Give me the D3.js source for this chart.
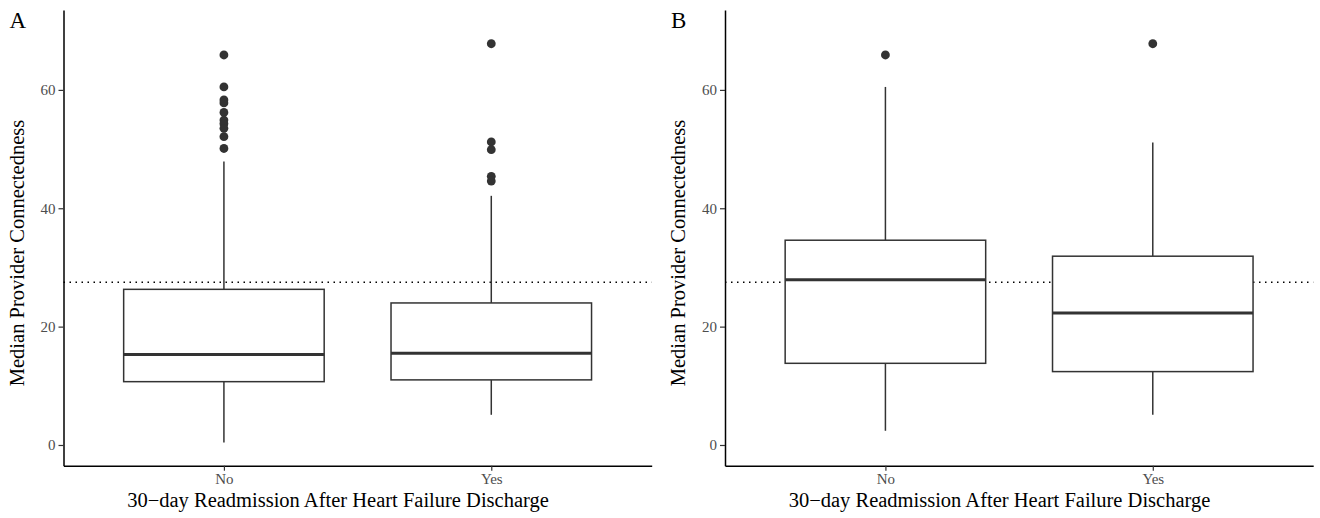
<!DOCTYPE html>
<html>
<head>
<meta charset="utf-8">
<script src="https://cdn.jsdelivr.net/npm/d3@7"></script>
<style>
  body { margin: 0; background: #fff; }
  svg { display: block; font-family: "Liberation Serif", "DejaVu Serif", serif; }
  .tick text { font-family: "Liberation Serif", serif; }
</style>
</head>
<body>
<svg id="chart" width="1320" height="518"></svg>
<script>
// categories and ticks
const groups = ["No", "Yes"];
const yTicks = [0, 20, 40, 60];
const refLine = 27.5;

// panel A: box stats per group (No, Yes)
const aLower  = [0.4, 5.1];
const aQ1     = [10.7, 11.0];
const aMedian = [15.3, 15.5];
const aQ3     = [26.3, 24.0];
const aUpper  = [47.9, 42.1];
const aOutNo  = [65.9, 60.5, 58.3, 57.8, 56.2, 54.9, 54.3, 53.5, 52.1, 50.1];
const aOutYes = [67.8, 51.2, 49.9, 45.4, 44.6];

// panel B
const bLower  = [2.4, 5.1];
const bQ1     = [13.8, 12.4];
const bMedian = [27.9, 22.3];
const bQ3     = [34.6, 31.9];
const bUpper  = [60.5, 51.1];
const bOutNo  = [65.9];
const bOutYes = [67.8];

const yTitle = "Median Provider Connectedness";
const xTitle = "30\u2212day Readmission After Heart Failure Discharge";

function buildRows(lo, q1, med, q3, hi, outs) {
  return groups.map((g, i) => ({
    group: g, lower: lo[i], q1: q1[i], median: med[i], q3: q3[i], upper: hi[i], outliers: outs[i]
  }));
}

const panels = [
  { tag: "A", left: 63.5, rows: buildRows(aLower, aQ1, aMedian, aQ3, aUpper, [aOutNo, aOutYes]) },
  { tag: "B", left: 725, rows: buildRows(bLower, bQ1, bMedian, bQ3, bUpper, [bOutNo, bOutYes]) }
];

const svg = d3.select("#chart");
const plotTop = 10, plotBottom = 465.7, plotW = 588.2;
const serif = '"Liberation Serif", serif';

const yScale = d3.scaleLinear().domain([-3.5, 73.5]).range([plotBottom, plotTop]);

panels.forEach(p => {
  const right = p.left + plotW;
  const x = d3.scalePoint().domain(groups).range([p.left, right]).padding(0.6);
  const boxW = x.step() * 0.75;
  const g = svg.append("g");

  // reference line
  g.append("line")
    .attr("x1", p.left).attr("x2", right)
    .attr("y1", yScale(refLine)).attr("y2", yScale(refLine))
    .style("stroke", "#000").style("stroke-width", 1.5)
    .style("stroke-dasharray", "1.5,4.5");

  const box = g.selectAll(".box").data(p.rows).enter().append("g").attr("class", "box");

  box.append("line")
    .attr("x1", d => x(d.group)).attr("x2", d => x(d.group))
    .attr("y1", d => yScale(d.upper)).attr("y2", d => yScale(d.q3))
    .style("stroke", "#333").style("stroke-width", 1.5);
  box.append("line")
    .attr("x1", d => x(d.group)).attr("x2", d => x(d.group))
    .attr("y1", d => yScale(d.q1)).attr("y2", d => yScale(d.lower))
    .style("stroke", "#333").style("stroke-width", 1.5);

  box.append("rect")
    .attr("x", d => x(d.group) - boxW / 2)
    .attr("y", d => yScale(d.q3))
    .attr("width", boxW)
    .attr("height", d => yScale(d.q1) - yScale(d.q3))
    .style("fill", "#fff").style("stroke", "#333").style("stroke-width", 1.5);

  box.append("line")
    .attr("x1", d => x(d.group) - boxW / 2).attr("x2", d => x(d.group) + boxW / 2)
    .attr("y1", d => yScale(d.median)).attr("y2", d => yScale(d.median))
    .style("stroke", "#333").style("stroke-width", 3);

  box.selectAll("circle")
    .data(d => d.outliers.map(v => ({ group: d.group, v })))
    .enter().append("circle")
    .attr("cx", d => x(d.group))
    .attr("cy", d => yScale(d.v))
    .attr("r", 4.4)
    .style("fill", "#333");

  // axes
  const yAxis = g.append("g")
    .attr("transform", `translate(${p.left},0)`)
    .call(d3.axisLeft(yScale).tickValues(yTicks).tickSize(5).tickSizeOuter(0).tickPadding(3))
    .attr("font-family", serif).attr("font-size", 15);
  yAxis.select(".domain").style("stroke", "#000").style("stroke-width", 1.5);
  yAxis.selectAll(".tick line").style("stroke", "#333").style("stroke-width", 1.2);
  yAxis.selectAll(".tick text").attr("fill", "#4d4d4d");

  const xAxis = g.append("g")
    .attr("transform", `translate(0,${plotBottom})`)
    .call(d3.axisBottom(x).tickSize(5).tickSizeOuter(0).tickPadding(3))
    .attr("font-family", serif).attr("font-size", 15);
  xAxis.select(".domain").style("stroke", "#000").style("stroke-width", 1.5);
  xAxis.selectAll(".tick line").style("stroke", "#333").style("stroke-width", 1.2);
  xAxis.selectAll(".tick text").attr("fill", "#4d4d4d");

  // titles
  g.append("text")
    .attr("x", p.left + 274.5).attr("y", 507)
    .attr("font-family", serif)
    .style("text-anchor", "middle").style("font-size", "20.5px").style("fill", "#000")
    .text(xTitle);

  const ty = 253, tx = p.left - 40;
  g.append("text")
    .attr("x", tx).attr("y", ty)
    .attr("transform", `rotate(-90, ${tx}, ${ty})`)
    .attr("font-family", serif)
    .style("text-anchor", "middle").style("font-size", "20.5px").style("fill", "#000")
    .text(yTitle);

  g.append("text")
    .attr("x", p.left - 54).attr("y", 28)
    .attr("font-family", serif)
    .style("font-size", "23px").style("fill", "#000")
    .text(p.tag);
});
</script>
</body>
</html>
